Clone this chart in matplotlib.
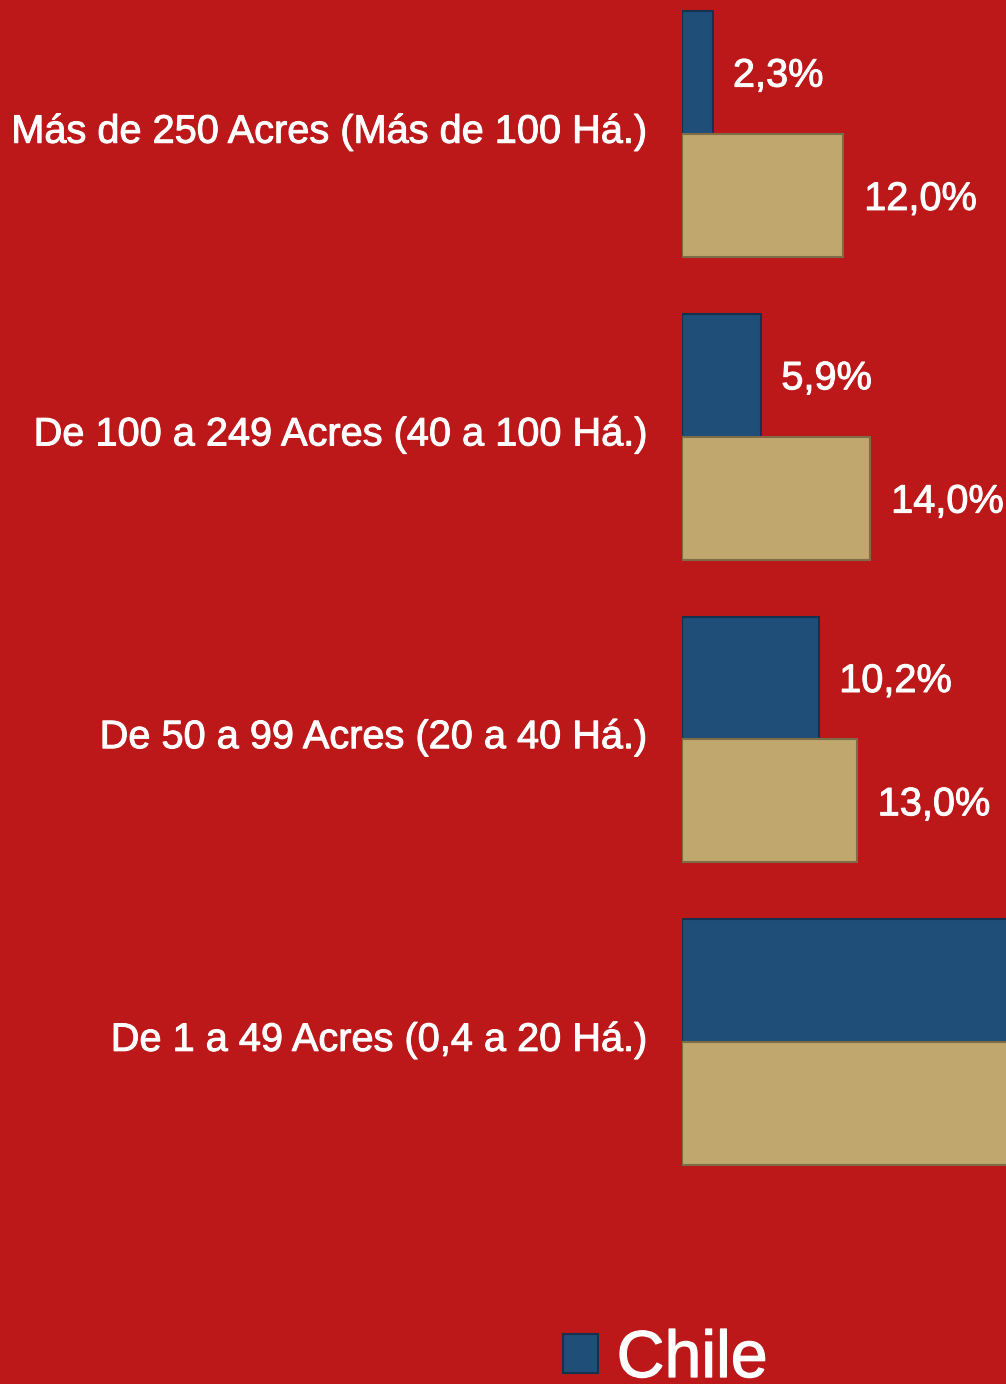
import matplotlib
matplotlib.use("Agg")
import matplotlib.pyplot as plt
import matplotlib.patheffects as pe
import numpy as np

categories = ["Más de 250 Acres (Más de 100 Há.)",
              "De 100 a 249 Acres (40 a 100 Há.)",
              "De 50 a 99 Acres (20 a 40 Há.)",
              "De 1 a 49 Acres (0,4 a 20 Há.)"]
chile = [2.3, 5.9, 10.2, 81.6]
other = [12.0, 14.0, 13.0, 61.0]
chile_labels = ["2,3%", "5,9%", "10,2%", "81,6%"]
other_labels = ["12,0%", "14,0%", "13,0%", "61,0%"]

BG = "#BD1819"
BLUE = "#1F4E79"
TAN = "#C0A76E"

plt.rcParams['font.family'] = ['Liberation Sans', 'DejaVu Sans']
heavy = [pe.withStroke(linewidth=0.7, foreground="white")]

W, H = 1006, 1384
fig = plt.figure(figsize=(W / 100, H / 100), dpi=100, facecolor=BG)
ax = fig.add_axes([682 / W, 0, 1 - 682 / W, 1])
ax.set_facecolor(BG)

y = np.arange(len(categories))
h = 0.406
b1 = ax.barh(y - h / 2, chile, height=h, color=BLUE, edgecolor="#14324f", linewidth=1.5, label="Chile")
b2 = ax.barh(y + h / 2, other, height=h, color=TAN, edgecolor="#7d6c45", linewidth=1.5, label="Otro")

for yi, v, lab in zip(y - h / 2, chile, chile_labels):
    ax.annotate(lab, (v, yi), xytext=(14.4, -2.2), textcoords="offset points",
                va="center", ha="left", color="white", fontsize=28.6, path_effects=heavy)
for yi, v, lab in zip(y + h / 2, other, other_labels):
    ax.annotate(lab, (v, yi), xytext=(15, -2.5), textcoords="offset points",
                va="center", ha="left", color="white", fontsize=28.6, path_effects=heavy)

ax.set_xlim(0, 24.09)
ax.set_ylim(4.1295, -0.4427)
ax.set_yticks([])
for yi, cat in zip(y, categories):
    ax.annotate(cat, (0, yi), xytext=(-25, 1.8), textcoords="offset points",
                va="center", ha="right", color="white", fontsize=28.6,
                annotation_clip=False, path_effects=heavy)
ax.set_xticks([])
for s in ax.spines.values():
    s.set_visible(False)

leg = fig.legend(handles=[b1], labels=["Chile"], loc="center left",
                 bbox_to_anchor=(563 / W, 1 - 1360 / H), frameon=False,
                 fontsize=47.7, labelcolor="white", handlelength=0.53, handleheight=0.53,
                 handletextpad=0.28, borderpad=0, borderaxespad=0)
for t in leg.get_texts():
    t.set_path_effects([pe.withStroke(linewidth=0.9, foreground="white")])

fig.savefig("out.png", dpi=100, facecolor=BG)
